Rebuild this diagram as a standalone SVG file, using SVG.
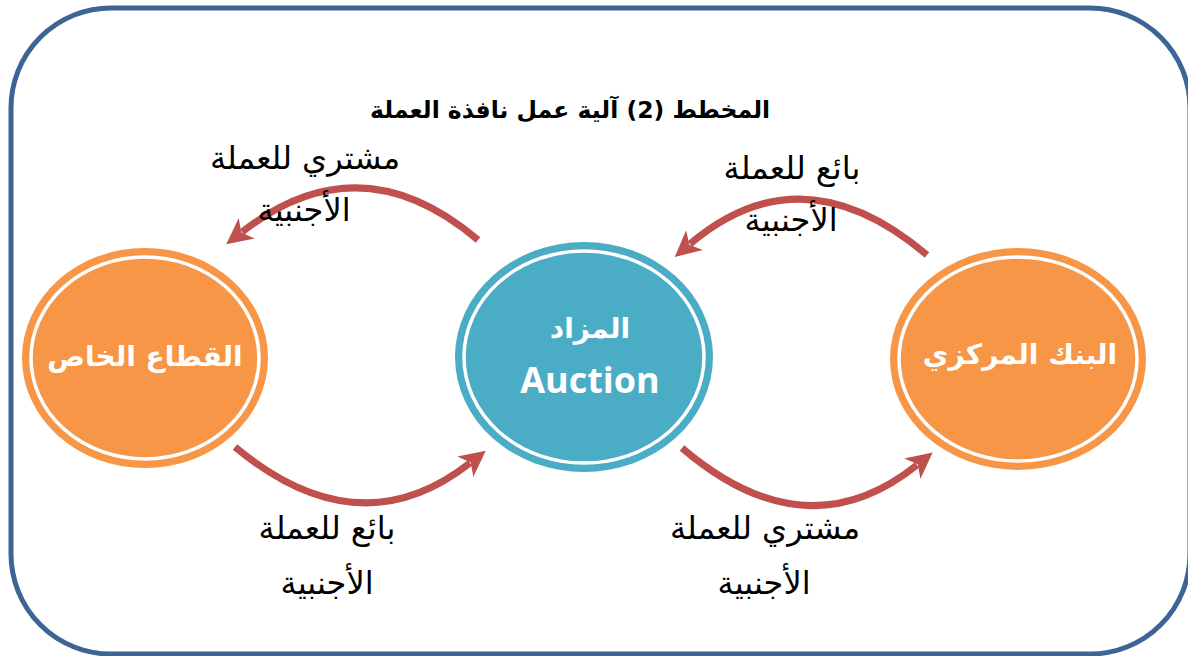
<svg xmlns="http://www.w3.org/2000/svg" width="1188" height="656" viewBox="0 0 1188 656">
  <style>
    .frame { fill: #ffffff; stroke: #3c6494; stroke-width: 5; }
    .orange { fill: #f79646; }
    .blue { fill: #4bacc6; }
    .ring { fill: none; stroke: #ffffff; stroke-width: 3.5; }
    .node-label { fill: #ffffff; font-family: "DejaVu Sans", sans-serif; font-weight: bold; text-anchor: middle; }
    .latin { font-family: "Open Sans", "Liberation Sans", sans-serif; }
    .flow { fill: none; stroke: #c0504d; stroke-width: 7; }
    .caption { fill: #000000; font-family: "DejaVu Sans", sans-serif; font-size: 32px; text-anchor: middle; }
    .title { fill: #000000; font-family: "DejaVu Sans", sans-serif; font-size: 23.5px; font-weight: bold; text-anchor: middle; }
  </style>
  <defs>
    <marker id="head" markerUnits="userSpaceOnUse" markerWidth="32" markerHeight="32" viewBox="0 0 32 32" refX="6" refY="16" orient="auto">
      <path d="M0,3 L26,16 L0,29 L7,16 Z" fill="#c0504d"/>
    </marker>
  </defs>

  <!-- outer frame -->
  <rect class="frame" x="11" y="8" width="1179" height="646" rx="100" ry="100"/>

  <!-- heading -->
  <text class="title" x="570" y="118" direction="rtl">المخطط (2) آلية عمل نافذة العملة</text>

  <!-- flows -->
  <g id="connectors">
    <path class="flow" d="M478,240 Q360,140 242,232" marker-end="url(#head)"/>
    <path class="flow" d="M927,255 Q802,149 690,244" marker-end="url(#head)"/>
    <path class="flow" d="M235,447 Q359,550 470,463" marker-end="url(#head)"/>
    <path class="flow" d="M682,448 Q806,554 917,465" marker-end="url(#head)"/>
  </g>

  <g id="private-sector">
    <ellipse class="orange" cx="145" cy="358" rx="123" ry="110"/>
    <ellipse class="ring" cx="145" cy="358" rx="114" ry="101"/>
    <text class="node-label" x="145" y="366" font-size="28" direction="rtl">القطاع الخاص</text>
  </g>

  <g id="auction">
    <ellipse class="blue" cx="584" cy="357" rx="129" ry="115"/>
    <ellipse class="ring" cx="584" cy="357" rx="120" ry="106"/>
    <text class="node-label" x="590" y="338" font-size="28" direction="rtl">المزاد</text>
    <text class="node-label latin" x="590" y="393" font-size="36">Auction</text>
  </g>

  <g id="central-bank">
    <ellipse class="orange" cx="1018" cy="359" rx="128" ry="111"/>
    <ellipse class="ring" cx="1018" cy="359" rx="119" ry="102"/>
    <text class="node-label" x="1020" y="364" font-size="28" direction="rtl">البنك المركزي</text>
  </g>

  <!-- flow captions -->
  <g id="label-buyer-top">
    <text class="caption" x="305" y="169" direction="rtl">مشتري للعملة</text>
    <text class="caption" x="304" y="221" direction="rtl">الأجنبية</text>
  </g>
  <g id="label-seller-top">
    <text class="caption" x="792" y="179" direction="rtl">بائع للعملة</text>
    <text class="caption" x="791" y="231" direction="rtl">الأجنبية</text>
  </g>
  <g id="label-seller-bottom">
    <text class="caption" x="327" y="539" direction="rtl">بائع للعملة</text>
    <text class="caption" x="327" y="594" direction="rtl">الأجنبية</text>
  </g>
  <g id="label-buyer-bottom">
    <text class="caption" x="765" y="539" direction="rtl">مشتري للعملة</text>
    <text class="caption" x="764" y="594" direction="rtl">الأجنبية</text>
  </g>
</svg>
